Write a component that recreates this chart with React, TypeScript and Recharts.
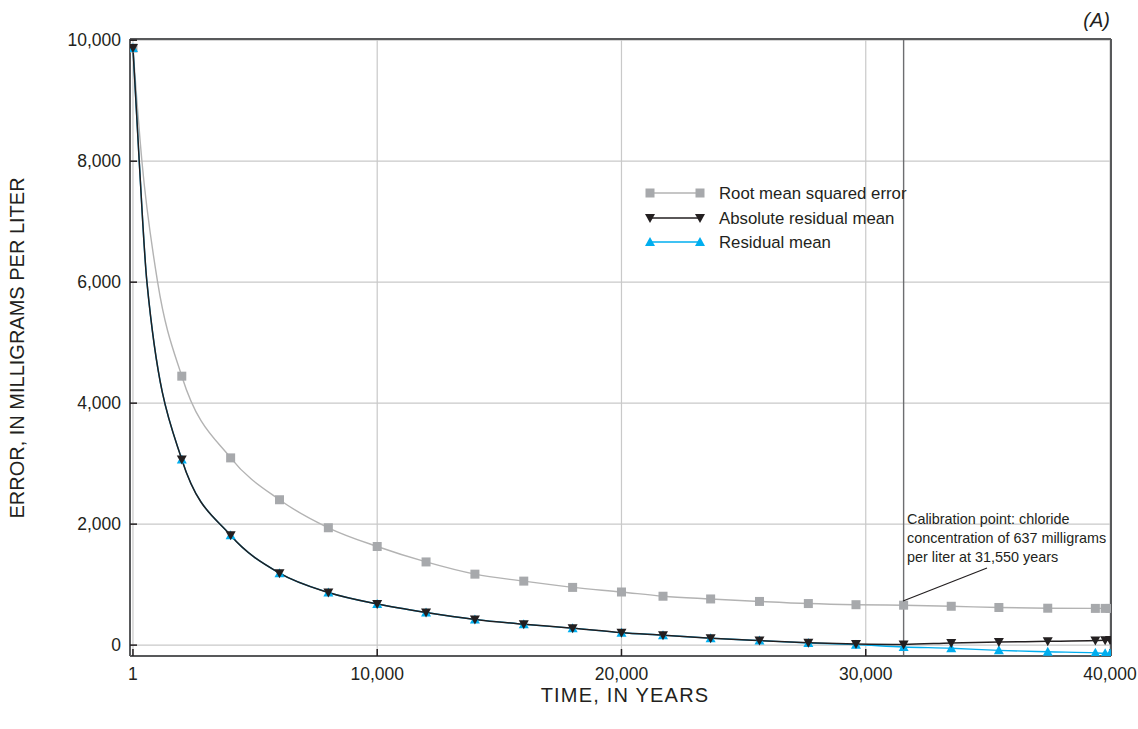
import React from "react";
import { LineChart, Line, XAxis, YAxis, CartesianGrid, ReferenceLine } from "recharts";

// marker times (years) shared by all three series
const markTimes = [1, 2000, 4000, 6000, 8000, 10000, 12000, 14000, 16000, 18000, 20000, 21700, 23650, 25650, 27650, 29600, 31550, 33500, 35450, 37450, 39400, 39800, 40000];
const rmseValues = [9870, 4446, 3095, 2403, 1940, 1630, 1375, 1173, 1058, 954, 878, 808, 763, 722, 687, 668, 660, 642, 622, 610, 607, 607, 606];
const absValues = [9870, 3070, 1815, 1190, 870, 680, 540, 425, 345, 280, 205, 165, 115, 75, 40, 20, 12, 35, 52, 62, 75, 80, 85];
const resValues = [9870, 3070, 1815, 1190, 870, 680, 540, 425, 345, 280, 205, 165, 115, 75, 35, 8, -30, -52, -87, -110, -128, -135, -140];

// extra points read off the steep early part of the curves (no markers)
const rmseCurveTimes = [368, 1011];
const rmseCurveValues = [8000, 6000];
const absCurveTimes = [258, 573];
const absCurveValues = [8000, 6000];

const xTicks = [1, 10000, 20000, 30000, 40000];
const yTicks = [0, 2000, 4000, 6000, 8000, 10000];

const FONT = "'Liberation Sans', Arial, sans-serif";
const GRAY = "#a7a9ac";
const BLACK = "#231f20";
const BLUE = "#00aeef";
const AXIS = "#58595b";

type Pt = { t: number; v: number; m: boolean };

function build(times: number[], values: number[], cTimes: number[], cValues: number[]): Pt[] {
  const pts: Pt[] = times.map((t, i) => ({ t, v: values[i], m: true }));
  cTimes.forEach((t, i) => pts.push({ t, v: cValues[i], m: false }));
  return pts.sort((a, b) => a.t - b.t);
}

const rmseData = build(markTimes, rmseValues, rmseCurveTimes, rmseCurveValues);
const absData = build(markTimes, absValues, absCurveTimes, absCurveValues);
const resData = build(markTimes, resValues, absCurveTimes, absCurveValues);

function Square({ cx, cy }: { cx: number; cy: number }) {
  return <rect x={cx - 4.5} y={cy - 4.5} width={9} height={9} fill={GRAY} />;
}
function Down({ cx, cy }: { cx: number; cy: number }) {
  return <polygon points={`${cx - 5},${cy - 4} ${cx + 5},${cy - 4} ${cx},${cy + 5}`} fill={BLACK} />;
}
function Up({ cx, cy }: { cx: number; cy: number }) {
  return <polygon points={`${cx - 5},${cy + 4} ${cx + 5},${cy + 4} ${cx},${cy - 5}`} fill={BLUE} />;
}

const dotOf = (Shape: typeof Square) => (p: any) => {
  const k = `${p.index}`;
  if (!p.payload || !p.payload.m) return <g key={k} />;
  return <Shape key={k} cx={p.cx} cy={p.cy} />;
};

const fmt = (v: number) => v.toLocaleString("en-US");

export default function App() {
  const tickStyle = { fontFamily: FONT, fontSize: 17.5, fill: "#231f20" };
  return (
    <div style={{ position: "absolute", left: 0, top: 0, width: 1138, height: 729, background: "#fff" }}>
      <LineChart width={1138} height={729} margin={{ top: 29, right: 17, bottom: 43, left: 70 }}>
        <CartesianGrid stroke="#c9c9c9" strokeWidth={1.2} />
        <XAxis
          type="number"
          dataKey="t"
          domain={[-120, 40040]}
          ticks={xTicks}
          allowDataOverflow
          height={30}
          tickSize={-7}
          tickMargin={19}
          tickFormatter={fmt}
          tick={tickStyle}
          axisLine={{ stroke: AXIS, strokeWidth: 2 }}
          tickLine={{ stroke: BLACK, strokeWidth: 1.5 }}
        />
        <XAxis
          xAxisId="top"
          orientation="top"
          type="number"
          domain={[-120, 40040]}
          ticks={xTicks}
          allowDataOverflow
          height={10}
          tickSize={-7}
          tick={false}
          axisLine={{ stroke: AXIS, strokeWidth: 2 }}
          tickLine={{ stroke: BLACK, strokeWidth: 1.5 }}
        />
        <YAxis
          type="number"
          domain={[-180, 10020]}
          ticks={yTicks}
          allowDataOverflow
          width={60}
          tickSize={-7}
          tickMargin={16}
          tickFormatter={fmt}
          tick={tickStyle}
          axisLine={{ stroke: AXIS, strokeWidth: 2 }}
          tickLine={{ stroke: BLACK, strokeWidth: 1.5 }}
        />
        <YAxis
          yAxisId="right"
          orientation="right"
          type="number"
          domain={[-180, 10020]}
          ticks={yTicks}
          allowDataOverflow
          width={10}
          tickSize={-7}
          tick={false}
          axisLine={{ stroke: AXIS, strokeWidth: 2 }}
          tickLine={{ stroke: BLACK, strokeWidth: 1.5 }}
        />
        <ReferenceLine x={31550} stroke="#6d6e71" strokeWidth={1.4} />
        <Line
          data={rmseData}
          dataKey="v"
          type="monotone"
          stroke="#b3b3b3"
          strokeWidth={1.4}
          dot={dotOf(Square)}
          activeDot={false}
          isAnimationActive={false}
        />
        <Line
          data={resData}
          dataKey="v"
          type="monotone"
          stroke={BLUE}
          strokeWidth={1.4}
          dot={dotOf(Up)}
          activeDot={false}
          isAnimationActive={false}
        />
        <Line
          data={absData}
          dataKey="v"
          type="monotone"
          stroke={BLACK}
          strokeWidth={1.5}
          dot={dotOf(Down)}
          activeDot={false}
          isAnimationActive={false}
        />
      </LineChart>
      <svg
        width={1138}
        height={729}
        style={{ position: "absolute", left: 0, top: 0, pointerEvents: "none" }}
        fontFamily={FONT}
      >
        <text x={1110} y={27} textAnchor="end" fontSize={20} fontStyle="italic" fill={BLACK}>(A)</text>
        <text transform="translate(24,348) rotate(-90)" textAnchor="middle" fontSize={20} fill={BLACK}>
          ERROR, IN MILLIGRAMS PER LITER
        </text>
        <text x={625} y={702} textAnchor="middle" fontSize={20} letterSpacing={1.2} fill={BLACK}>
          TIME, IN YEARS
        </text>

        <line x1={650} y1={193} x2={700} y2={193} stroke="#b3b3b3" strokeWidth={1.4} />
        <Square cx={650} cy={193} />
        <Square cx={700} cy={193} />
        <text x={719} y={199} fontSize={16.8} fill={BLACK}>Root mean squared error</text>

        <line x1={650} y1={218} x2={700} y2={218} stroke={BLACK} strokeWidth={1.5} />
        <Down cx={650} cy={218} />
        <Down cx={700} cy={218} />
        <text x={719} y={224} fontSize={16.8} fill={BLACK}>Absolute residual mean</text>

        <line x1={650} y1={242} x2={700} y2={242} stroke={BLUE} strokeWidth={1.4} />
        <Up cx={650} cy={242} />
        <Up cx={700} cy={242} />
        <text x={719} y={248} fontSize={16.8} fill={BLACK}>Residual mean</text>

        <text x={907} y={524} fontSize={14.4} fill={BLACK}>Calibration point: chloride</text>
        <text x={907} y={543} fontSize={14.4} fill={BLACK}>concentration of 637 milligrams</text>
        <text x={907} y={562} fontSize={14.4} fill={BLACK}>per liter at 31,550 years</text>
        <line x1={987} y1={568} x2={903} y2={601} stroke={BLACK} strokeWidth={1.2} />
      </svg>
    </div>
  );
}
